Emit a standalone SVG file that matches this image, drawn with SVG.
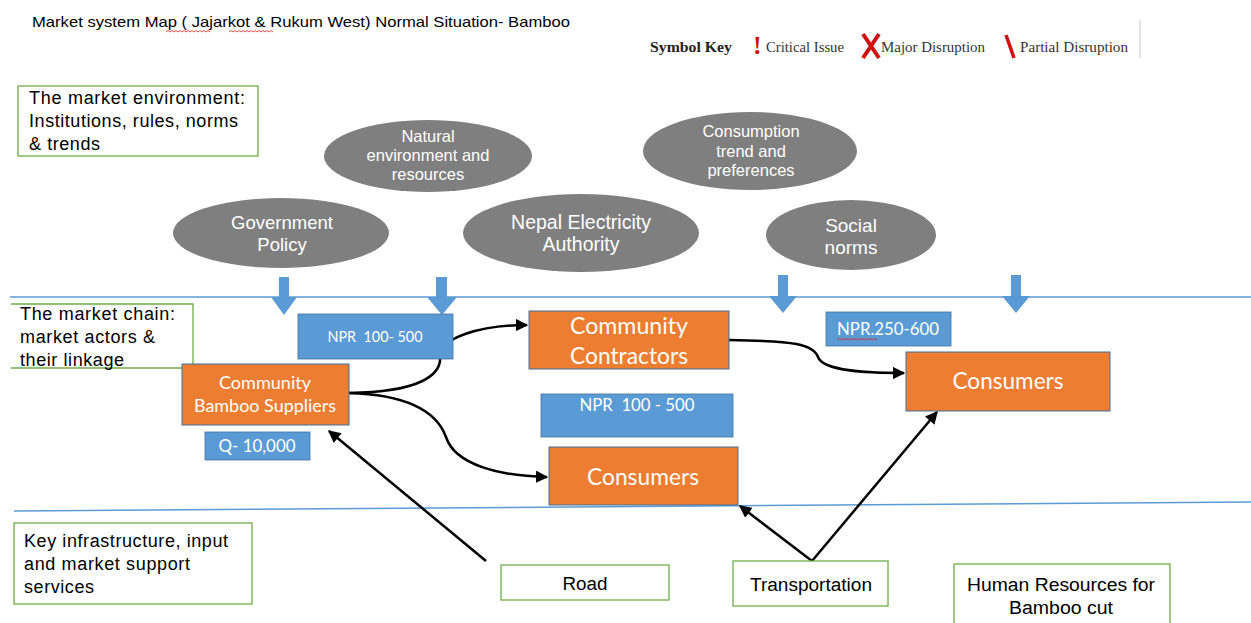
<svg xmlns="http://www.w3.org/2000/svg" width="1251" height="623" viewBox="0 0 1251 623">
<defs>
<marker id="ah" viewBox="0 0 10 10" refX="9" refY="5" markerWidth="5" markerHeight="5" orient="auto" markerUnits="strokeWidth"><path d="M0,0 L10,5 L0,10 z" fill="#000"/></marker>
<style>
.sans{font-family:"Liberation Sans",Arial,sans-serif}
.cal{font-family:Lato,"Open Sans",sans-serif}
.ser{font-family:"Liberation Serif","Times New Roman",serif}
.env{fill:#7f7f7f}
.envt{fill:#fff;text-anchor:middle}
.gbox{fill:#fff;stroke:#70ad47;stroke-width:1.3}
.obox{fill:#ed7d31;stroke:#41719c;stroke-width:1}
.bbox{fill:#5b9bd5;stroke:#41719c;stroke-width:0.8}
.wt{fill:#fff;text-anchor:middle}
.bt{fill:#000}
.conn{fill:none;stroke:#000;stroke-width:2.5;marker-end:url(#ah)}
.barrow{fill:#5b9bd5}
.wavy{fill:none;stroke:#e02020;stroke-width:0.8}
</style>
</defs>
<rect width="1251" height="623" fill="#fff"/>

<!-- title -->
<g id="title">
<text x="32" y="27" class="sans" font-size="15" textLength="538" lengthAdjust="spacingAndGlyphs">Market system Map ( Jajarkot &amp; Rukum West) Normal Situation- Bamboo</text>
<path class="wavy" d="M166,32 l2,-1.5 l2,1.5 l2,-1.5 l2,1.5 l2,-1.5 l2,1.5 l2,-1.5 l2,1.5 l2,-1.5 l2,1.5 l2,-1.5 l2,1.5 l2,-1.5 l2,1.5 l2,-1.5 l2,1.5 l2,-1.5 l2,1.5 l2,-1.5 l2,1.5 l2,-1.5 l2,1.5"/>
<path class="wavy" d="M229,32 l2,-1.5 l2,1.5 l2,-1.5 l2,1.5 l2,-1.5 l2,1.5 l2,-1.5 l2,1.5 l2,-1.5 l2,1.5 l2,-1.5 l2,1.5 l2,-1.5 l2,1.5 l2,-1.5 l2,1.5 l2,-1.5 l2,1.5 l2,-1.5 l2,1.5 l2,-1.5 l2,1.5"/>
</g>

<!-- symbol key -->
<g id="symbol-key">
<text x="650" y="52" class="ser" font-size="15" font-weight="bold" fill="#222" textLength="82" lengthAdjust="spacingAndGlyphs">Symbol Key</text>
<text x="753" y="54" class="ser" font-size="26" font-weight="bold" fill="#d01010">!</text>
<text x="766" y="52" class="ser" font-size="15" fill="#333" textLength="78" lengthAdjust="spacingAndGlyphs">Critical Issue</text>
<path d="M863,34 L879,58 M879,34 L863,58" stroke="#d01010" stroke-width="4" fill="none"/>
<text x="881" y="52" class="ser" font-size="15" fill="#333" textLength="104" lengthAdjust="spacingAndGlyphs">Major Disruption</text>
<path d="M1006,35 L1014,58" stroke="#d01010" stroke-width="3.5" fill="none"/>
<text x="1020" y="52" class="ser" font-size="15" fill="#333" textLength="108" lengthAdjust="spacingAndGlyphs">Partial Disruption</text>
<line x1="1140" y1="20" x2="1140" y2="58" stroke="#ccc" stroke-width="1"/>
</g>

<!-- layer separators -->
<g id="separators">
<line x1="10" y1="297" x2="1251" y2="297" stroke="#5b9bd5" stroke-width="1.3"/>
<line x1="14" y1="511" x2="1251" y2="502" stroke="#5b9bd5" stroke-width="1.5"/>
</g>

<!-- layer labels -->
<g id="label-environment">
<rect class="gbox" x="18" y="86" width="240" height="70"/>
<text class="sans bt" font-size="18" lengthAdjust="spacingAndGlyphs"><tspan x="29" y="104" textLength="216">The market environment:</tspan><tspan x="29" y="127" textLength="209">Institutions, rules, norms</tspan><tspan x="29" y="150" textLength="71">&amp; trends</tspan></text>
</g>
<g id="label-chain">
<path d="M11,304 L193,304 L193,368 L11,368" fill="#fff" stroke="#70ad47" stroke-width="1.3"/>
<text class="sans bt" font-size="18"><tspan x="20" y="320" textLength="155">The market chain:</tspan><tspan x="20" y="343" textLength="135">market actors &amp;</tspan><tspan x="20" y="366" textLength="104">their linkage</tspan></text>
</g>
<g id="label-infrastructure">
<rect class="gbox" x="14" y="523" width="238" height="81"/>
<text class="sans bt" font-size="18"><tspan x="24" y="547" textLength="204">Key infrastructure, input</tspan><tspan x="24" y="570" textLength="166">and market support</tspan><tspan x="24" y="593" textLength="70">services</tspan></text>
</g>

<!-- environment ellipses -->
<g id="env-government">
<ellipse class="env" cx="281" cy="233" rx="108" ry="35"/>
<text class="sans envt" font-size="18.5"><tspan x="282" y="229">Government</tspan><tspan x="282" y="251">Policy</tspan></text>
</g>
<g id="env-natural">
<ellipse class="env" cx="428" cy="156" rx="104" ry="36"/>
<text class="sans envt" font-size="16.5"><tspan x="428" y="142">Natural</tspan><tspan x="428" y="161">environment and</tspan><tspan x="428" y="180">resources</tspan></text>
</g>
<g id="env-nea">
<ellipse class="env" cx="581" cy="233" rx="118" ry="39"/>
<text class="sans envt" font-size="19.5"><tspan x="581" y="229">Nepal Electricity</tspan><tspan x="581" y="251">Authority</tspan></text>
</g>
<g id="env-consumption">
<ellipse class="env" cx="750" cy="151" rx="107" ry="39"/>
<text class="sans envt" font-size="16.5"><tspan x="751" y="137">Consumption</tspan><tspan x="751" y="157">trend and</tspan><tspan x="751" y="176">preferences</tspan></text>
</g>
<g id="env-social">
<ellipse class="env" cx="851" cy="235" rx="85" ry="35"/>
<text class="sans envt" font-size="19"><tspan x="851" y="232">Social</tspan><tspan x="851" y="254">norms</tspan></text>
</g>

<!-- block arrows down -->
<g id="influence-arrows">
<path class="barrow" d="M279,277 h10 v20 h8 l-13,18 l-13,-18 h8 z"/>
<path class="barrow" d="M436,277 h11 v20 h10 l-15,18 l-15,-18 h9 z"/>
<path class="barrow" d="M778,275 h10 v21 h9 l-14,17 l-14,-17 h9 z"/>
<path class="barrow" d="M1011,275 h10 v21 h9 l-14,17 l-14,-17 h9 z"/>
</g>

<!-- connectors -->
<g id="connectors">
<path class="conn" d="M349,393 C420,392 442,375 440,356 C440,338 480,325 527,325"/>
<path class="conn" d="M349,393 C415,395 438,415 446,437 C455,465 500,476 547,477"/>
<path class="conn" d="M729,340 C795,341 813,344 818,357 C823,371 865,373 904,373"/>
<path class="conn" d="M486,561 L329,431"/>
<path class="conn" d="M812,561 L740,506"/>
<path class="conn" d="M812,561 L937,412"/>
</g>

<!-- market chain actors -->
<g id="price-npr-100-500-a">
<rect class="bbox" x="298" y="314" width="155" height="45"/>
<text class="cal wt" x="375" y="342" font-size="15" textLength="95" lengthAdjust="spacingAndGlyphs">NPR&#160; 100- 500</text>
</g>
<g id="community-bamboo-suppliers">
<rect class="obox" x="182" y="364" width="167" height="61"/>
<text class="cal wt" font-size="18"><tspan x="265" y="389" textLength="92" lengthAdjust="spacingAndGlyphs">Community</tspan><tspan x="265" y="412" textLength="142" lengthAdjust="spacingAndGlyphs">Bamboo Suppliers</tspan></text>
</g>
<g id="quantity">
<rect class="bbox" x="205" y="432" width="105" height="28"/>
<text class="cal wt" x="257" y="452" font-size="16.5" textLength="77" lengthAdjust="spacingAndGlyphs">Q- 10,000</text>
</g>
<g id="community-contractors">
<rect class="obox" x="529" y="311" width="200" height="58"/>
<text class="cal wt" font-size="23"><tspan x="629" y="334" textLength="118" lengthAdjust="spacingAndGlyphs">Community</tspan><tspan x="629" y="364" textLength="118" lengthAdjust="spacingAndGlyphs">Contractors</tspan></text>
</g>
<g id="price-npr-100-500-b">
<rect class="bbox" x="541" y="394" width="192" height="43"/>
<text class="cal wt" x="637" y="411" font-size="17" textLength="115" lengthAdjust="spacingAndGlyphs">NPR&#160; 100 - 500</text>
</g>
<g id="consumers-local">
<rect class="obox" x="549" y="447" width="189" height="58"/>
<text class="cal wt" x="643" y="485" font-size="22.5" textLength="112" lengthAdjust="spacingAndGlyphs">Consumers</text>
</g>
<g id="price-npr-250-600">
<rect class="bbox" x="826" y="312" width="125" height="34"/>
<text class="cal wt" x="888" y="335" font-size="17" textLength="102" lengthAdjust="spacingAndGlyphs">NPR.250-600</text>
<path class="wavy" d="M837,340 l2,-1.5 l2,1.5 l2,-1.5 l2,1.5 l2,-1.5 l2,1.5 l2,-1.5 l2,1.5 l2,-1.5 l2,1.5 l2,-1.5 l2,1.5 l2,-1.5 l2,1.5 l2,-1.5 l2,1.5 l2,-1.5 l2,1.5 l2,-1.5 l2,1.5"/>
</g>
<g id="consumers-outside">
<rect class="obox" x="906" y="352" width="204" height="59"/>
<text class="cal wt" x="1008" y="389" font-size="22.5" textLength="111" lengthAdjust="spacingAndGlyphs">Consumers</text>
</g>

<!-- infrastructure / services -->
<g id="road">
<rect class="gbox" x="501" y="565" width="168" height="35"/>
<text class="sans bt" x="585" y="590" font-size="18" text-anchor="middle" textLength="45" lengthAdjust="spacingAndGlyphs">Road</text>
</g>
<g id="transportation">
<rect class="gbox" x="733" y="561" width="155" height="45"/>
<text class="sans bt" x="811" y="591" font-size="18" text-anchor="middle" textLength="122" lengthAdjust="spacingAndGlyphs">Transportation</text>
</g>
<g id="human-resources">
<rect class="gbox" x="954" y="564" width="216" height="70"/>
<text class="sans bt" font-size="18" text-anchor="middle"><tspan x="1061" y="591" textLength="188" lengthAdjust="spacingAndGlyphs">Human Resources for</tspan><tspan x="1061" y="614" textLength="104" lengthAdjust="spacingAndGlyphs">Bamboo cut</tspan></text>
</g>
</svg>
